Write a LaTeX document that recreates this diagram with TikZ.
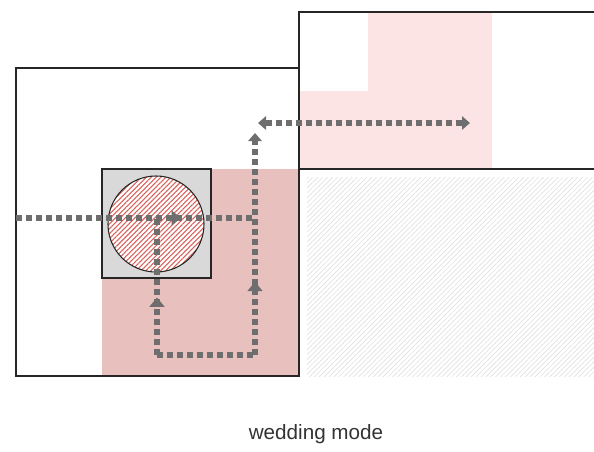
\documentclass[tikz,border=0pt]{standalone}
\usepackage{fontspec}
\setmainfont{Liberation Sans}
\usetikzlibrary{arrows.meta,patterns.meta,decorations.markings}
\definecolor{roompink}{HTML}{E8C1BF}
\definecolor{lightpink}{HTML}{FDE4E4}
\definecolor{boxgray}{HTML}{D9D9D9}
\definecolor{flowgray}{HTML}{6E6E6E}
\definecolor{hatchred}{HTML}{D9605A}
\definecolor{captiongray}{HTML}{333333}

\begin{document}
\begin{tikzpicture}[x=0.75pt,y=-0.75pt,
	wall/.style={draw=black!85,line width=1.1pt},
	flow/.style={draw=flowgray,line width=4.5pt,dash pattern=on 4.5pt off 3pt},
	tip/.style={-{Triangle[width=10pt,length=6pt]}},
	both/.style={{Triangle[width=10pt,length=6pt]}-{Triangle[width=10pt,length=6pt]}},
	midarrow/.style={postaction={decorate},decoration={markings,
		mark=at position #1 with {\arrow{Triangle[width=11pt,length=7pt]}}}}]
	\useasboundingbox (0,0) rectangle (594,451);
	\tikzstyle{every node}+=[inner sep=0pt]
	\fill [lightpink] (368,12) rectangle (492,169);
	\fill [lightpink] (300,91) rectangle (368,169);
	\fill [roompink] (102,169) rectangle (299,376);
	\pattern [pattern={Lines[angle=45,distance=2.6pt,line width=0.5pt]},pattern color=black!12] (307,177) rectangle (594,376);
	\draw [wall,fill=boxgray] (102,169) rectangle (211,278);
	\fill [white] (156,224) circle (48);
	\pattern [pattern={Lines[angle=45,distance=2.6pt,line width=0.8pt]},pattern color=hatchred] (156,224) circle (48);
	\draw [black!85,line width=0.8pt] (156,224) circle (48);
	\draw [wall] (16,68) rectangle (299,376);
	\draw [wall] (594,12) -- (299,12) -- (299,169) -- (594,169);
	\coordinate (inlet) at (16,218);
	\coordinate (core) at (157,218);
	\coordinate (cross) at (255,218);
	\coordinate (lowleft) at (157,355);
	\coordinate (lowright) at (255,355);
	\coordinate (riser) at (255,133);
	\coordinate (hallwest) at (258,123);
	\coordinate (halleast) at (470,123);
	\draw [flow,midarrow=0.69] (inlet) -- (cross);
	\draw [flow,midarrow=0.42] (lowleft) -- (core);
	\draw [flow] (lowleft) -- (lowright);
	\draw [flow,tip,midarrow=0.33] (lowright) -- (riser);
	\draw [flow,both] (hallwest) -- (halleast);
	\node [text=captiongray,font=\fontsize{15.5}{18}\selectfont] (caption) at (316,434) {wedding mode};
\end{tikzpicture}
\end{document}
